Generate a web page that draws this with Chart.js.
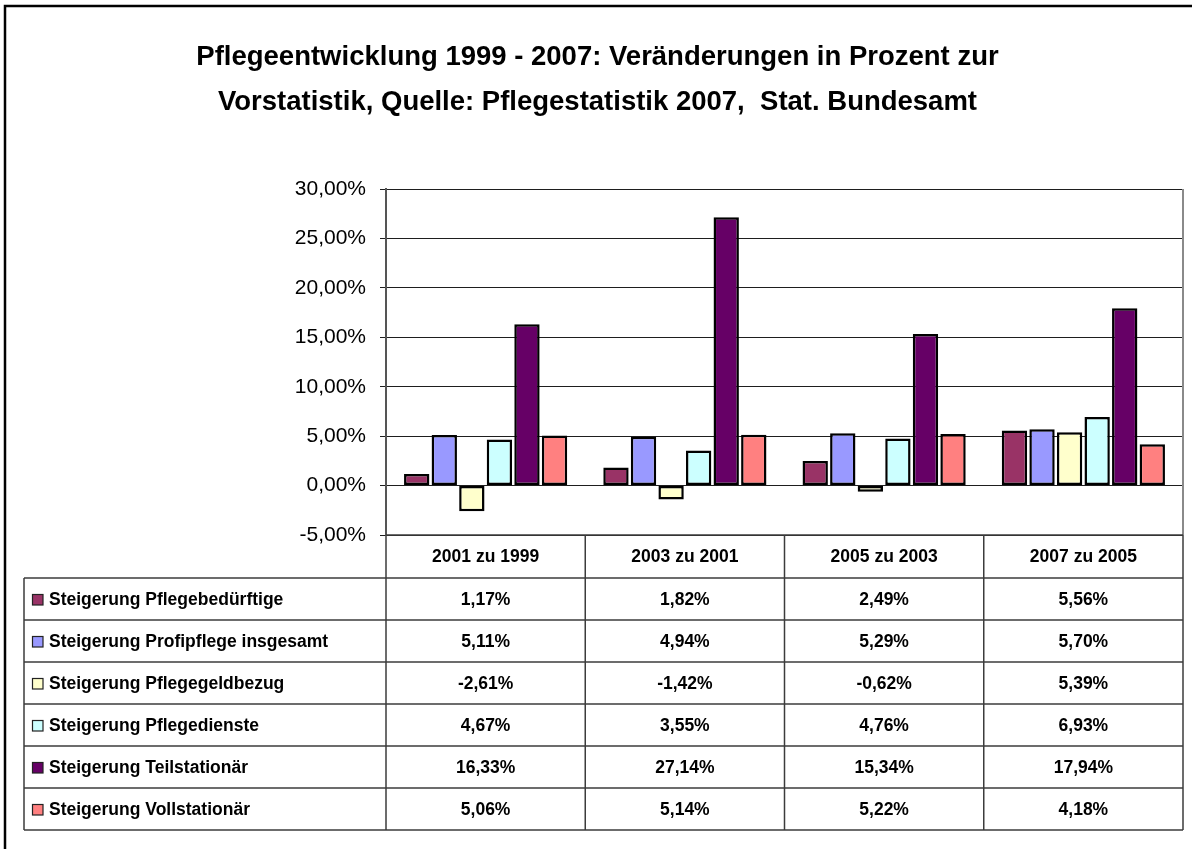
<!DOCTYPE html>
<html>
<head>
<meta charset="utf-8">
<script src="https://cdn.jsdelivr.net/npm/chart.js@4.4.1/dist/chart.umd.min.js"></script>
<style>
  html, body { margin: 0; padding: 0; background: #fff; }
</style>
</head>
<body>
<canvas id="chart" width="1192" height="849"></canvas>
<script>
// ── Data ─────────────────────────────────────────────────────
const categories = ['2001 zu 1999', '2003 zu 2001', '2005 zu 2003', '2007 zu 2005'];

const pflegebeduerftige = [1.17, 1.82, 2.49, 5.56];
const profipflege       = [5.11, 4.94, 5.29, 5.70];
const pflegegeld        = [-2.61, -1.42, -0.62, 5.39];
const pflegedienste     = [4.67, 3.55, 4.76, 6.93];
const teilstationaer    = [16.33, 27.14, 15.34, 17.94];
const vollstationaer    = [5.06, 5.14, 5.22, 4.18];

const yTicks = [-5, 0, 5, 10, 15, 20, 25, 30];

const FONT = '"Liberation Sans", Arial, sans-serif';
const fmt = v => v.toFixed(2).replace('.', ',') + '%';

const series = [
    { label: 'Steigerung Pflegebedürftige',      data: pflegebeduerftige, color: '#993366' },
    { label: 'Steigerung Profipflege insgesamt', data: profipflege,       color: '#9999ff' },
    { label: 'Steigerung Pflegegeldbezug',       data: pflegegeld,        color: '#ffffcc' },
    { label: 'Steigerung Pflegedienste',         data: pflegedienste,     color: '#ccffff' },
    { label: 'Steigerung Teilstationär',         data: teilstationaer,    color: '#660066' },
    { label: 'Steigerung Vollstationär',         data: vollstationaer,    color: '#ff8080' },
];

// ── Frame + data table (drawn under the plot area) ───────────
const framePlugin = {
    id: 'frame',
    beforeDraw(chart) {
        const { ctx, width, height } = chart;
        ctx.save();
        ctx.fillStyle = '#fff';
        ctx.fillRect(0, 0, width, height);
        ctx.strokeStyle = '#000';
        ctx.lineWidth = 2.5;
        ctx.strokeRect(5, 6, width + 20, height + 20);
        ctx.restore();
    },
};

const tablePlugin = {
    id: 'dataTable',
    afterDraw(chart) {
        const { ctx, chartArea: a, scales: { x } } = chart;
        const colW = (a.right - a.left) / categories.length;
        const tableLeft = 24;
        const headH = 43, rowH = 42;
        const top = a.bottom;
        const rowsTop = top + headH;
        const bottom = rowsTop + rowH * series.length;

        ctx.save();

        // right border of plot area
        ctx.strokeStyle = '#8a8a8a';
        ctx.lineWidth = 2;
        ctx.beginPath();
        ctx.moveTo(a.right, a.top);
        ctx.lineTo(a.right, a.bottom);
        ctx.stroke();

        ctx.strokeStyle = '#3c3c3c';
        ctx.lineWidth = 1.5;
        ctx.beginPath();
        // header top line
        ctx.moveTo(a.left, top); ctx.lineTo(a.right, top);
        // row lines
        for (let r = 0; r <= series.length; r++) {
            const y = rowsTop + r * rowH;
            ctx.moveTo(tableLeft, y); ctx.lineTo(a.right, y);
        }
        // column lines
        categories.forEach((c, i) => {
            const xl = x.getPixelForValue(i) - colW / 2;
            ctx.moveTo(xl, top); ctx.lineTo(xl, bottom);
        });
        ctx.moveTo(a.right, top); ctx.lineTo(a.right, bottom);
        ctx.moveTo(tableLeft, rowsTop); ctx.lineTo(tableLeft, bottom);
        ctx.stroke();

        ctx.fillStyle = '#000';
        ctx.font = 'bold 17.5px ' + FONT;
        ctx.textBaseline = 'middle';

        // header
        ctx.textAlign = 'center';
        categories.forEach((c, i) => {
            ctx.fillText(c, x.getPixelForValue(i), top + headH / 2 + 1);
        });

        // rows
        series.forEach((s, r) => {
            const yc = rowsTop + r * rowH + rowH / 2 + 1;
            ctx.fillStyle = s.color;
            ctx.fillRect(32, yc - 6, 11, 11);
            ctx.strokeStyle = '#222';
            ctx.lineWidth = 1.2;
            ctx.strokeRect(32.5, yc - 5.5, 10.5, 10.5);
            ctx.fillStyle = '#000';
            ctx.textAlign = 'left';
            ctx.fillText(s.label, 49, yc);
            ctx.textAlign = 'center';
            s.data.forEach((v, i) => {
                ctx.fillText(fmt(v), x.getPixelForValue(i), yc);
            });
        });

        ctx.restore();
    },
};

// ── Chart ────────────────────────────────────────────────────
const ctx = document.getElementById('chart').getContext('2d');

new Chart(ctx, {
    type: 'bar',
    data: {
        labels: categories,
        datasets: series.map(s => ({
            label: s.label,
            data: s.data,
            backgroundColor: s.color,
            borderColor: '#000',
            borderWidth: 2.5,
            borderSkipped: false,
            categoryPercentage: 0.83,
            barPercentage: 0.92,
        })),
    },
    options: {
        responsive: false,
        devicePixelRatio: 1,
        animation: false,
        layout: { padding: { left: 12, right: 9, top: 0, bottom: 314 } },
        scales: {
            x: { display: false },
            y: {
                min: yTicks[0],
                max: yTicks[yTicks.length - 1],
                afterBuildTicks: scale => { scale.ticks = yTicks.map(v => ({ value: v })); },
                afterFit: scale => { scale.width = 374; },
                ticks: {
                    color: '#000',
                    padding: 14,
                    font: { family: FONT, size: 21 },
                    callback: v => fmt(v),
                },
                grid: { color: '#1e1e1e', lineWidth: 1, tickLength: 6 },
                border: { display: true, color: '#555', width: 2 },
            },
        },
        plugins: {
            legend: { display: false },
            tooltip: { enabled: false },
            title: {
                display: true,
                text: ['Pflegeentwicklung 1999 - 2007: Veränderungen in Prozent zur',
                       'Vorstatistik, Quelle: Pflegestatistik 2007,  Stat. Bundesamt'],
                color: '#000',
                font: { family: FONT, size: 27.5, weight: 'bold', lineHeight: 45 / 27.5 },
                padding: { top: 35, bottom: 64 },
            },
        },
    },
    plugins: [framePlugin, tablePlugin],
});
</script>
</body>
</html>
